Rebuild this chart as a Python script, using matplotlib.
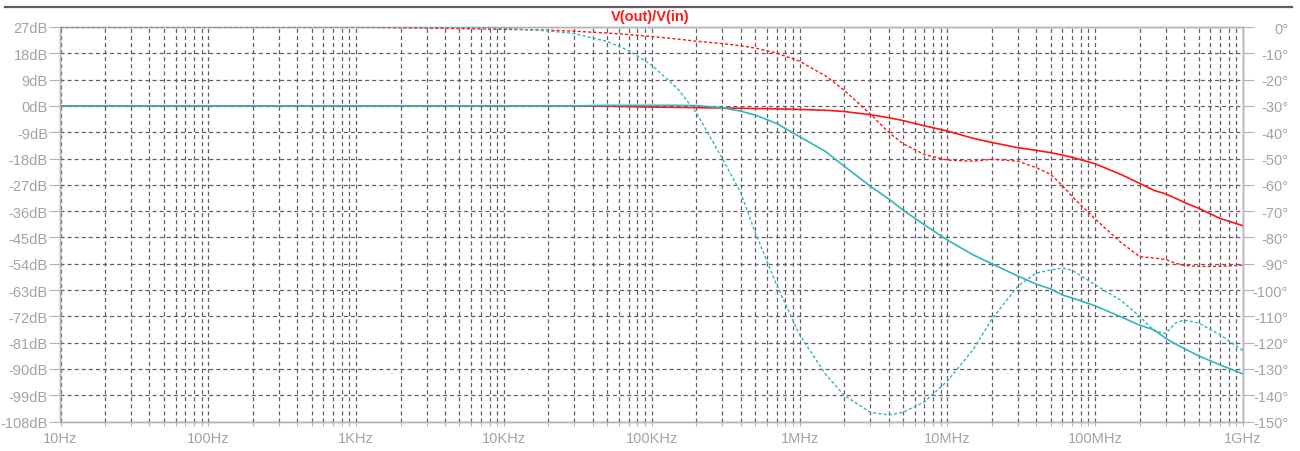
import matplotlib
matplotlib.use("Agg")
import matplotlib.pyplot as plt
from matplotlib.ticker import FixedLocator, NullFormatter
from matplotlib.lines import Line2D

plt.rcParams["font.family"] = ["Liberation Sans", "DejaVu Sans"]
plt.rcParams["lines.scale_dashes"] = False

# Frequency sweep points (Hz)
freq = [10, 1e3, 2e3, 5e3, 1e4, 2e4, 3e4, 5e4, 7e4, 1e5, 1.5e5, 2e5, 3e5, 4e5,
        5e5, 7e5, 1e6, 1.5e6, 2e6, 3e6, 4e6, 5e6, 7e6, 1e7, 1.5e7, 2e7, 3e7,
        4e7, 5e7, 6e7, 7e7, 1e8, 1.5e8, 2e8, 2.5e8, 3e8, 3.5e8, 4e8, 5e8,
        7e8, 1e9]

# Trace 1 (red): magnitude in dB and phase in degrees
red_mag_db = [0, 0, 0, 0, 0, 0, 0, -0.1, -0.25, -0.4, -0.5, -0.6, -0.7, -0.8,
              -0.9, -1.0, -1.2, -1.5, -1.9, -3.0, -4.0, -5.0, -6.8, -8.6,
              -11.1, -12.5, -14.3, -15.2, -16.0, -16.8, -17.6, -19.8, -23.5,
              -26.5, -28.9, -30.1, -31.6, -33.0, -35.0, -38.5, -41.0]
red_phase_deg = [0, 0, -0.3, -0.6, -0.9, -1.2, -1.6, -2.3, -2.9, -3.6, -4.6,
                 -5.4, -6.3, -7.1, -8.0, -9.9, -13.0, -18.6, -24.0, -33.0,
                 -40.0, -44.3, -48.5, -50.6, -51.0, -50.3, -51.0, -53.5, -56.0,
                 -60.3, -64.5, -73.0, -82.0, -87.3, -87.8, -88.4, -89.8, -90.6,
                 -91.0, -91.0, -90.5]

# Trace 2 (cyan): magnitude in dB and phase in degrees
cyan_mag_db = [0, 0, 0, 0, 0, 0, 0, 0.2, 0.2, 0.2, 0.2, 0.1, -0.6, -1.8,
               -3.1, -6.0, -10.5, -15.6, -20.6, -27.4, -31.8, -35.6, -40.7,
               -45.9, -51.0, -54.0, -58.2, -61.0, -62.6, -64.7, -65.7, -68.4,
               -72.2, -75.0, -76.6, -79.5, -81.5, -83.0, -85.5, -88.6, -91.7]
cyan_phase_deg = [0, 0, 0, 0, -0.5, -1.5, -2.5, -5.5, -9.0, -14.5, -23.5,
                  -32.5, -50.0, -63.0, -78.0, -98.0, -117.0, -132.0, -140.0,
                  -146.4, -147.5, -146.5, -142.5, -134.6, -122.5, -111.0,
                  -98.5, -93.5, -92.4, -91.6, -92.5, -98.0, -104.0, -110.0,
                  -115.5, -116.5, -112.5, -111.4, -112.5, -117.0, -123.0]

freq_ticks = [1e1, 1e2, 1e3, 1e4, 1e5, 1e6, 1e7, 1e8, 1e9]
freq_labels = ["10Hz", "100Hz", "1KHz", "10KHz", "100KHz", "1MHz", "10MHz",
               "100MHz", "1GHz"]
mag_ticks = list(range(27, -109, -9))
phase_ticks = list(range(0, -151, -10))

W, H = 1300, 452
fig = plt.figure(figsize=(W / 100, H / 100), dpi=100)
fig.patch.set_facecolor("white")

left, right, top, bottom = 60.5, 1243.0, 28.0, 422.6
ax = fig.add_axes([left / W, 1 - bottom / H, (right - left) / W, (bottom - top) / H])
ax.set_xscale("log")
ax.set_xlim(10, 1e9)
ax.set_ylim(-108, 27)

label_col = "#a3a3a3"
spine_col = "#b4b4b4"
grid_col = "#675a68"
grid_ls = (0, (2.9, 2.2))

for s in ax.spines.values():
    s.set_color(spine_col)
    s.set_linewidth(1.0)

# Decade ticks with 2..9 subdivisions
minor = [m * d for d in freq_ticks[:-1] for m in range(2, 10)]
ax.xaxis.set_major_locator(FixedLocator(freq_ticks))
ax.xaxis.set_minor_locator(FixedLocator(minor))
ax.xaxis.set_minor_formatter(NullFormatter())
ax.yaxis.set_major_locator(FixedLocator(mag_ticks))
ax.yaxis.set_minor_locator(FixedLocator([]))

ax.tick_params(axis="x", which="both", direction="out", length=3, width=0.8,
               color=spine_col, labelcolor=label_col, labelsize=10.5, pad=4)
ax.tick_params(axis="y", which="major", direction="out", length=8, width=0.8,
               color=spine_col, labelcolor=label_col, labelsize=10.5, pad=1)
ax.set_xticklabels(freq_labels)
ax.set_yticklabels([f"{v}dB" for v in mag_ticks])

ax.grid(True, which="both", axis="x", color=grid_col, linestyle=grid_ls, linewidth=0.9)
ax.grid(True, which="major", axis="y", color=grid_col, linestyle=grid_ls, linewidth=0.9)
ax.set_axisbelow(True)

red = "#ff1414"
cyan = "#2fb6be"

ax.plot(freq, red_mag_db, color=red, lw=1.2, zorder=3)
ax.plot(freq, cyan_mag_db, color=cyan, lw=1.2, zorder=4)

ax2 = ax.twinx()
ax2.set_ylim(-150, 0)
ax2.yaxis.set_major_locator(FixedLocator(phase_ticks))
ax2.tick_params(axis="y", direction="out", length=8, width=0.8, color=spine_col,
                labelcolor=label_col, labelsize=10.5, pad=24.5)
ax2.set_yticklabels([f"{v}\u00b0" for v in phase_ticks], ha="right")
for s in ax2.spines.values():
    s.set_color(spine_col)
    s.set_linewidth(1.0)

phase_ls = (0, (2.2, 1.6))
ax2.plot(freq, red_phase_deg, color=red, lw=1.0, linestyle=phase_ls, zorder=3)
ax2.plot(freq, cyan_phase_deg, color=cyan, lw=1.0, linestyle=phase_ls, zorder=4)

# Header rule and trace title
fig.add_artist(Line2D([5 / W, 1292 / W], [1 - 7.5 / H, 1 - 7.5 / H],
                      transform=fig.transFigure, color="#5e5e5e", lw=1.6))
fig.text(0.5, 1 - 17 / H, "V(out)/V(in)", ha="center", va="center",
         color="#ff1a1a", fontweight="bold", fontsize=10.5)

fig.savefig("out.png", dpi=100)
